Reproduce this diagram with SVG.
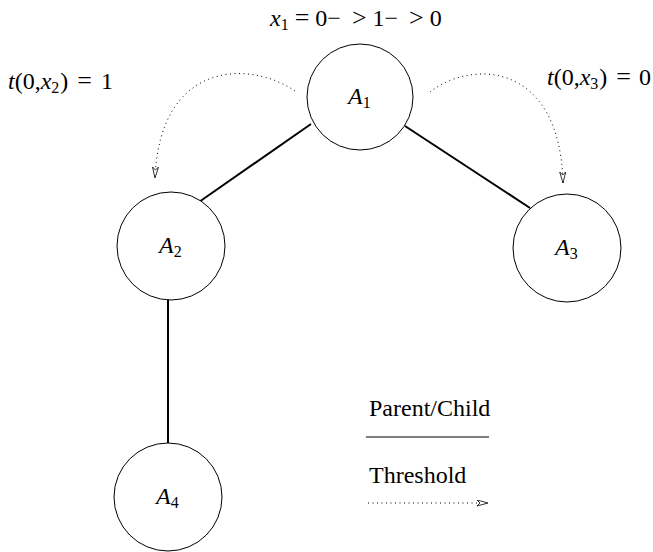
<svg xmlns="http://www.w3.org/2000/svg" width="653" height="552" viewBox="0 0 653 552">
<defs>
<style>
text{font-family:"Liberation Serif","Times New Roman",serif;font-size:24px;fill:#000}
.it{font-style:italic}
.sub{font-size:16px;font-style:normal}
.node{fill:#fff;stroke:#000;stroke-width:1}
.edge{stroke:#000;stroke-width:2;fill:none}
.dot{stroke:#000;stroke-width:1;fill:none;stroke-dasharray:1 3.5}
</style>
<marker id="ah" viewBox="0 0 12 7" refX="11" refY="3.5" markerWidth="12" markerHeight="7" markerUnits="userSpaceOnUse" orient="auto">
<path d="M0,0.5 L11,3.5 L0,6.5 L3,3.5 Z" fill="#fff" stroke="#000" stroke-width="0.8"/>
</marker>
</defs>
<rect width="653" height="552" fill="#fff"/>
<g id="connectors">
<line class="edge" x1="311" y1="124" x2="199" y2="202"/>
<line class="edge" x1="405" y1="126" x2="530" y2="208"/>
<line class="edge" x1="168" y1="300" x2="168" y2="443"/>
<path class="dot" d="M295,91 C250,60 160,60 155,178" marker-end="url(#ah)"/>
<path class="dot" d="M430,92 C470,60 560,60 563,183" marker-end="url(#ah)"/>
</g>
<g id="A1"><circle class="node" cx="360" cy="97" r="53"/><text class="it" x="348" y="104">A<tspan class="sub" dy="4">1</tspan></text></g>
<g id="A2"><circle class="node" cx="171" cy="246" r="54"/><text class="it" x="159" y="253">A<tspan class="sub" dy="4">2</tspan></text></g>
<g id="A3"><circle class="node" cx="567" cy="248" r="54"/><text class="it" x="555" y="255">A<tspan class="sub" dy="4">3</tspan></text></g>
<g id="A4"><circle class="node" cx="168" cy="497" r="54"/><text class="it" x="156" y="504">A<tspan class="sub" dy="4">4</tspan></text></g>
<g id="labels">
<text x="270" y="26"><tspan class="it">x</tspan><tspan class="sub" dy="4">1</tspan><tspan dx="6" dy="-4" font-size="26">=</tspan><tspan dx="6">0−</tspan><tspan dx="11" font-size="26">&gt;</tspan><tspan dx="6">1−</tspan><tspan dx="11" font-size="26">&gt;</tspan><tspan dx="6">0</tspan></text>
<text x="8" y="89"><tspan class="it">t</tspan>(0,<tspan class="it">x</tspan><tspan class="sub" dy="4">2</tspan><tspan dx="1" dy="-4">)</tspan><tspan dx="9" font-size="26">=</tspan><tspan dx="9">1</tspan></text>
<text x="547" y="85"><tspan class="it">t</tspan>(0,<tspan class="it">x</tspan><tspan class="sub" dy="4">3</tspan><tspan dx="1" dy="-4">)</tspan><tspan dx="9" font-size="26">=</tspan><tspan dx="8">0</tspan></text>
</g>
<g id="legend">
<text x="369" y="416" font-size="24.5">Parent/Child</text>
<line x1="366" y1="437" x2="489" y2="437" stroke="#000" stroke-width="1"/>
<text x="369" y="483" font-size="24.5">Threshold</text>
<line class="dot" x1="368" y1="503" x2="488" y2="503" marker-end="url(#ah)"/>
</g>
</svg>
